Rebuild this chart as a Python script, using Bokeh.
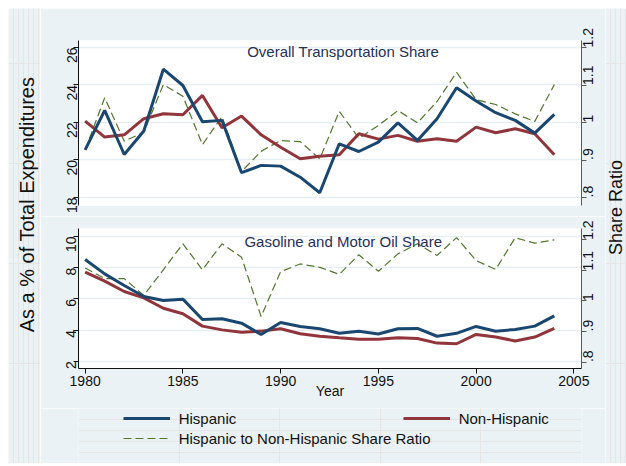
import math
from bokeh.plotting import figure
from bokeh.models import Range1d, LinearAxis, Label, Legend, LegendItem
from bokeh.layouts import row, column
from bokeh.embed import file_html
from bokeh.resources import INLINE

# ---------------- data ----------------
years = list(range(1980, 2005))

hisp_transport = [20.54, 22.64, 20.29, 21.54, 24.84, 23.97, 22.04, 22.11, 19.32, 19.71,
                  19.67, 19.08, 18.25, 20.86, 20.45, 20.95, 21.98, 21.04, 22.20, 23.85,
                  23.14, 22.52, 22.11, 21.43, 22.43]
nonhisp_transport = [22.07, 21.22, 21.34, 22.20, 22.46, 22.41, 23.44, 21.72, 22.34, 21.34,
                     20.68, 20.06, 20.20, 20.28, 21.40, 21.11, 21.31, 21.00, 21.13, 21.00,
                     21.75, 21.45, 21.66, 21.40, 20.28]
ratio_transport = [0.927, 1.066, 0.950, 0.974, 1.101, 1.070, 0.941, 1.016, 0.869, 0.923,
                   0.952, 0.949, 0.903, 1.030, 0.958, 0.992, 1.032, 0.999, 1.056, 1.134,
                   1.061, 1.048, 1.023, 1.003, 1.101]

hisp_gas = [8.52, 7.60, 6.86, 6.15, 5.89, 5.98, 4.68, 4.72, 4.44, 3.71,
            4.48, 4.23, 4.08, 3.79, 3.92, 3.75, 4.08, 4.10, 3.60, 3.79,
            4.23, 3.92, 4.04, 4.25, 4.91]
nonhisp_gas = [7.71, 7.14, 6.47, 6.06, 5.40, 5.04, 4.25, 4.01, 3.86, 3.93,
               4.08, 3.76, 3.60, 3.50, 3.41, 3.41, 3.50, 3.46, 3.16, 3.12,
               3.72, 3.55, 3.30, 3.55, 4.10]
ratio_gas = [1.108, 1.073, 1.073, 1.018, 1.102, 1.187, 1.102, 1.187, 1.143, 0.949,
             1.096, 1.121, 1.110, 1.087, 1.151, 1.097, 1.154, 1.187, 1.149, 1.207,
             1.132, 1.103, 1.207, 1.189, 1.200]

x_ticks = [1980, 1985, 1990, 1995, 2000, 2005]
top_left_ticks = [18, 20, 22, 24, 26]
bottom_left_ticks = [2, 4, 6, 8, 10]
ratio_ticks = [0.8, 0.9, 1.0, 1.1, 1.2]
ratio_tick_labels = [".8", ".9", "1", "1.1", "1.2"]

top_title = "Overall Transportation Share"
bottom_title = "Gasoline and Motor Oil Share"
left_label = "As a % of Total Expenditures"
right_label = "Share Ratio"
x_label = "Year"
series_names = ["Hispanic", "Non-Hispanic", "Hispanic to Non-Hispanic Share Ratio"]

# ---------------- style ----------------
BG = "#eaf2f5"
GRID = "#e6eef1"
NAVY = "#1a476f"
MAROON = "#90353b"
GREEN = "#55752f"
TITLE_C = "#25305a"
TXT = "#111111"
FONT = "Liberation Sans"
MAIN_W = 565
BL, BR = 38, 24   # left / right borders of the main panels


def style_axis(ax, color, standoff):
    ax.axis_line_color = color
    ax.axis_line_width = 1
    ax.major_tick_line_color = color
    ax.minor_tick_line_color = None
    ax.major_tick_out = 5
    ax.major_tick_in = 0
    ax.major_label_text_font = FONT
    ax.major_label_text_font_size = "14px"
    ax.major_label_text_color = TXT
    ax.major_label_standoff = standoff


def panel(height, top_b, bottom_b, yr, rr, lticks, H, N, R, title, ty, with_x):
    p = figure(width=MAIN_W, height=height,
               x_range=Range1d(1979.66, 2005.39), y_range=Range1d(*yr),
               output_backend="svg", toolbar_location=None,
               x_axis_location="below" if with_x else None,
               min_border_left=BL, min_border_right=BR,
               min_border_top=top_b, min_border_bottom=bottom_b)
    p.extra_y_ranges = {"ratio": Range1d(*rr)}
    p.background_fill_color = "white"
    p.border_fill_color = BG
    p.outline_line_color = None

    p.yaxis.ticker = lticks
    style_axis(p.yaxis[0], "#111111", 2)
    p.yaxis[0].major_label_orientation = math.pi / 2
    p.ygrid.ticker = p.yaxis[0].ticker
    p.ygrid.grid_line_color = GRID
    p.ygrid.grid_line_width = 1.5
    p.xgrid.visible = False

    rax = LinearAxis(y_range_name="ratio")
    rax.ticker = ratio_ticks
    rax.major_label_overrides = dict(zip(ratio_ticks, ratio_tick_labels))
    style_axis(rax, "#5a5a5a", 2)
    rax.major_label_orientation = math.pi / 2
    p.add_layout(rax, "right")

    if with_x:
        p.xaxis.ticker = x_ticks
        style_axis(p.xaxis[0], "#111111", 2)
        p.xaxis.axis_label = x_label
        p.xaxis.axis_label_text_font = FONT
        p.xaxis.axis_label_text_font_size = "14px"
        p.xaxis.axis_label_text_font_style = "normal"
        p.xaxis.axis_label_text_color = TXT
        p.xaxis.axis_label_standoff = -6

    p.line(years, R, y_range_name="ratio", line_color=GREEN, line_width=1.2,
           line_dash="8 4")
    p.line(years, N, line_color=MAROON, line_width=3)
    p.line(years, H, line_color=NAVY, line_width=3)

    p.add_layout(Label(x=1993.2, y=ty, text=title, text_align="center",
                       text_baseline="alphabetic", text_font=FONT,
                       text_font_size="15px", text_color=TITLE_C))
    return p


top = panel(208, 32, 11, (17.57, 26.37), (0.7787, 1.2187), top_left_ticks,
            hisp_transport, nonhisp_transport, ratio_transport, top_title, 25.76, False)
bottom = panel(192, 12, 40, (1.532, 10.513), (0.779, 1.237), bottom_left_ticks,
               hisp_gas, nonhisp_gas, ratio_gas, bottom_title, 9.70, True)

# ---------------- legend strip ----------------
nan2 = [float("nan"), float("nan")]
lg = figure(width=MAIN_W, height=55, x_range=Range1d(0, 1), y_range=Range1d(0, 1),
            output_backend="svg", toolbar_location=None,
            x_axis_location=None, y_axis_location=None,
            min_border_left=BL, min_border_right=BR, min_border_top=0, min_border_bottom=0)
lg.background_fill_color = BG
lg.border_fill_color = BG
lg.outline_line_color = None
r_h = lg.line(nan2, nan2, line_color=NAVY, line_width=3)
r_n = lg.line(nan2, nan2, line_color=MAROON, line_width=3)
r_r = lg.line(nan2, nan2, line_color=GREEN, line_width=1.2, line_dash="8 4")
for rend, name, loc in [(r_h, series_names[0], (82.7 - BL, 34.6)),
                        (r_n, series_names[1], (362.7 - BL, 34.6)),
                        (r_r, series_names[2], (82.7 - BL, 15.0))]:
    leg = Legend(items=[LegendItem(label=name, renderers=[rend])], location=loc,
                 glyph_width=47, glyph_height=20, label_standoff=9, label_height=20,
                 padding=0, margin=0, spacing=0, border_line_color=None,
                 background_fill_alpha=0, label_text_font=FONT,
                 label_text_font_size="15px", label_text_color=TXT)
    lg.add_layout(leg)


# ---------------- side label strips ----------------
def side(width, text, x, y, size):
    f = figure(width=width, height=455, x_range=Range1d(0, width), y_range=Range1d(0, 455),
               output_backend="svg", toolbar_location=None,
               x_axis_location=None, y_axis_location=None, min_border=0)
    f.background_fill_color = BG
    f.border_fill_color = BG
    f.outline_line_color = None
    f.add_layout(Label(x=x, y=y, text=text, angle=math.pi / 2, text_align="center",
                       text_baseline="middle", text_font=FONT,
                       text_font_size=size, text_color=TXT))
    return f


labL = side(32, left_label, 18, 259, "20px")
labR = side(21, right_label, 10.0, 256, "18px")

layout = row(labL, column(top, bottom, lg), labR)
layout.margin = (8, 0, 0, 8)
open("out.html", "w").write(file_html(layout, INLINE))
